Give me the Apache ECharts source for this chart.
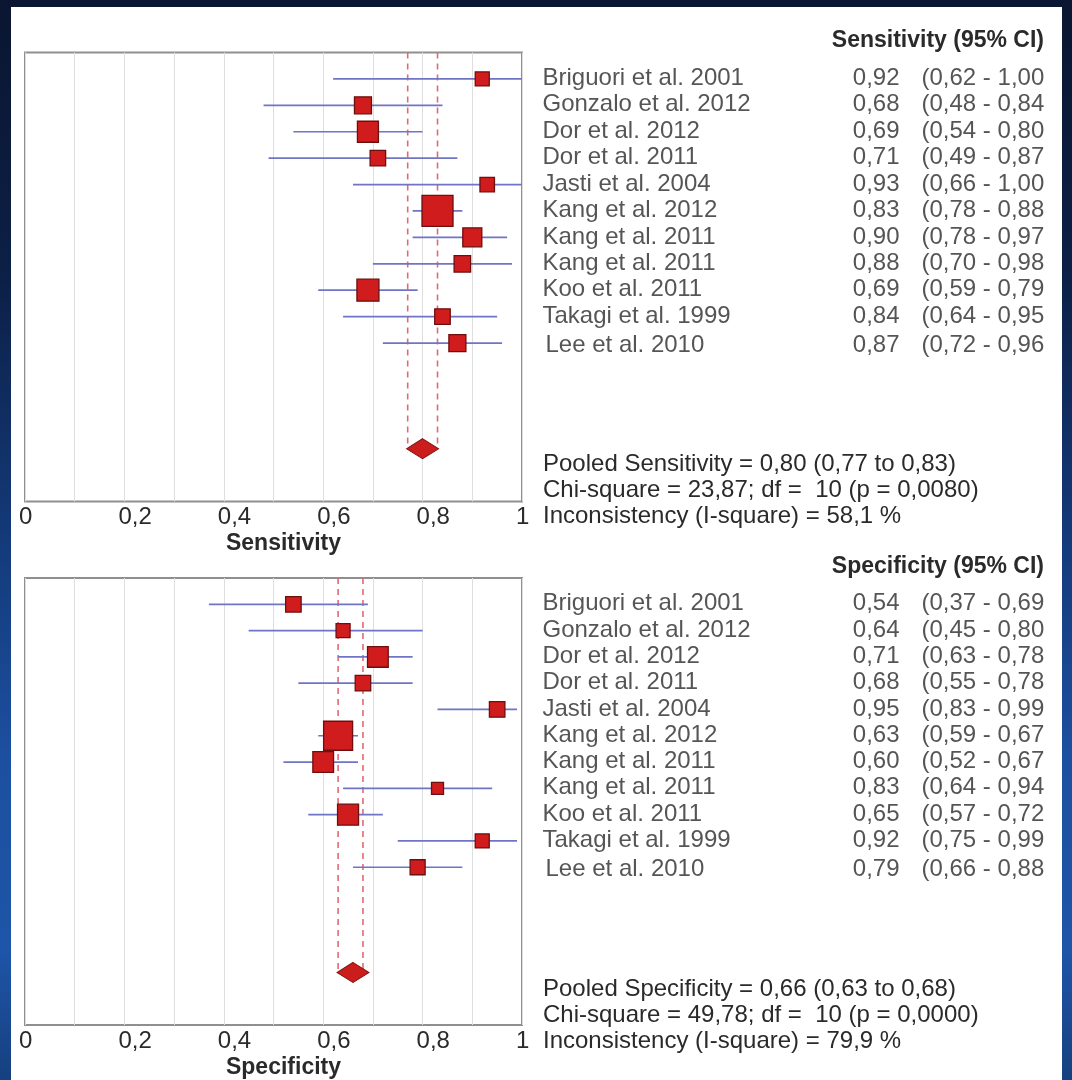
<!DOCTYPE html>
<html><head><meta charset="utf-8">
<script src="https://cdn.jsdelivr.net/npm/echarts@6/dist/echarts.min.js"></script>
<style>
html,body{margin:0;padding:0;width:1072px;height:1080px;overflow:hidden;}
body{position:relative;background:linear-gradient(180deg,#0a1631 0%,#0c1f45 25%,#143a7a 50%,#1c4f9f 70%,#1e55a8 88%,#16407f 100%);}
#panel{position:absolute;left:11px;top:7px;width:1051px;height:1073px;background:#fff;}
#chart{position:absolute;left:0;top:0;width:1072px;height:1080px;}
</style></head><body><div id="panel"></div><div id="chart"></div>
<script>
// ---------- data ----------
const studies = ['Briguori et al. 2001','Gonzalo et al. 2012','Dor et al. 2012','Dor et al. 2011','Jasti et al. 2004','Kang et al. 2012','Kang et al. 2011','Kang et al. 2011','Koo et al. 2011','Takagi et al. 1999','Lee et al. 2010'];
const sensEst = [0.92,0.68,0.69,0.71,0.93,0.83,0.90,0.88,0.69,0.84,0.87];
const sensLo  = [0.62,0.48,0.54,0.49,0.66,0.78,0.78,0.70,0.59,0.64,0.72];
const sensHi  = [1.00,0.84,0.80,0.87,1.00,0.88,0.97,0.98,0.79,0.95,0.96];
const sensWeight = [14,17,21,15.5,14.5,31,19,16.5,22,15.5,17];
const sensPooled = [0.80,0.77,0.83];
const sensStats = ['Pooled Sensitivity = 0,80 (0,77 to 0,83)','Chi-square = 23,87; df =  10 (p = 0,0080)','Inconsistency (I-square) = 58,1 %'];

const specEst = [0.54,0.64,0.71,0.68,0.95,0.63,0.60,0.83,0.65,0.92,0.79];
const specLo  = [0.37,0.45,0.63,0.55,0.83,0.59,0.52,0.64,0.57,0.75,0.66];
const specHi  = [0.69,0.80,0.78,0.78,0.99,0.67,0.67,0.94,0.72,0.99,0.88];
const specWeight = [15.5,14,20.7,15.5,15.5,29,20.7,12,21,14,15];
const specPooled = [0.66,0.63,0.68];
const specStats = ['Pooled Specificity = 0,66 (0,63 to 0,68)','Chi-square = 49,78; df =  10 (p = 0,0000)','Inconsistency (I-square) = 79,9 %'];

const tickLabels = ['0','0,2','0,4','0,6','0,8','1'];
const headers = ['Sensitivity (95% CI)','Specificity (95% CI)'];
const axisNames = ['Sensitivity','Specificity'];
const pooledRow = 14;

// ---------- build ----------
const FONT = "'Liberation Sans', Arial, sans-serif";
const FS = 24;
const FSB = 23;
const TXT = '#2a2a2a';
const fmt = v => v.toFixed(2).replace('.', ',');
const rows = studies.map((s,i)=>i);

function panel(g, est, lo, hi, w, pooled){
  const series = [];
  series.push({
    type:'custom', xAxisIndex:g, yAxisIndex:g, silent:true, z:3,
    encode:{x:[0,1], y:2},
    data: rows.map(i=>[lo[i],hi[i],i]),
    renderItem:(p,api)=>{
      const a=api.coord([api.value(0),api.value(2)]), b=api.coord([api.value(1),api.value(2)]);
      return {type:'line',shape:{x1:a[0],y1:a[1],x2:b[0],y2:b[1]},style:{stroke:'#6f74c4',lineWidth:1.7}};
    }
  });
  [pooled[1],pooled[2]].forEach(v=>{
    series.push({type:'line', xAxisIndex:g, yAxisIndex:g, silent:true, symbol:'none', z:2,
      data:[[v,-1],[v,pooledRow]],
      lineStyle:{color:'#e06a74', width:1.6, type:[6,5]}});
  });
  series.push({type:'scatter', xAxisIndex:g, yAxisIndex:g, silent:true, z:5, symbol:'rect',
    data: rows.map(i=>[est[i],i]),
    symbolSize:(v,p)=>w[p.dataIndex],
    itemStyle:{color:'#d01c1c', borderColor:'#6e0e0e', borderWidth:1.3, opacity:1}});
  series.push({type:'scatter', xAxisIndex:g, yAxisIndex:g, silent:true, z:5, symbol:'diamond',
    data:[[pooled[0],pooledRow]], symbolSize:[32,20],
    itemStyle:{color:'#cc1d1d', borderColor:'#7e1212', borderWidth:1, opacity:1}});
  const lab = (fn, pos, align, dx)=>({type:'scatter', xAxisIndex:g, yAxisIndex:g, silent:true, z:6, clip:false,
    symbolSize:1, itemStyle:{color:'transparent'},
    data: rows.map(i=>{
      const d={value:[1,i]};
      if(i===10) d.label={position:[pos[0]+dx,pos[1]+3]};
      return d;
    }),
    label:{show:true, position:pos, align:align, verticalAlign:'middle', fontFamily:FONT, fontSize:FS, color:TXT,
      formatter:p=>fn(p.dataIndex)}});
  series.push(lab(i=>studies[i],[21,0],'left',3));
  series.push(lab(i=>fmt(est[i]),[378,0],'right',0));
  series.push(lab(i=>'('+fmt(lo[i])+' - '+fmt(hi[i]),[400,0],'left',0));
  return series;
}

const gridTops = [52.5, 578];
const gridH = 449;
const option = {
  animation:false,
  backgroundColor:'transparent',
  grid: gridTops.map(t=>({left:25, width:497, top:t, height:gridH, show:true, borderColor:'#8f8f8f', borderWidth:2, backgroundColor:'transparent'})),
  xAxis: [0,1].map(g=>({
    gridIndex:g, type:'value', min:0, max:1, interval:0.1,
    axisLine:{show:false}, axisTick:{show:false},
    splitLine:{show:true, lineStyle:{color:'#dedede', width:1}},
    axisLabel:{show:true, margin:4, align:'left', padding:[0,0,0,-6], fontFamily:FONT, fontSize:FS, color:TXT,
      formatter:v=>{const k=Math.round(v*10); return k%2===0 ? tickLabels[k/2] : '';}},
    name:axisNames[g], nameLocation:'middle', nameGap:31,
    nameTextStyle:{fontFamily:FONT, fontSize:FSB, fontWeight:'bold', color:TXT, padding:[0,0,0,20]}
  })),
  yAxis: [0,1].map(g=>({gridIndex:g, type:'value', min:-1, max:16, inverse:true, show:false, splitLine:{show:false}})),
  series: [...panel(0,sensEst,sensLo,sensHi,sensWeight,sensPooled), ...panel(1,specEst,specLo,specHi,specWeight,specPooled)],
  graphic: [
    ...[0,1].map(g=>({type:'text', x:1044, y:41+gridTops[g]-52.5, silent:true,
      style:{text:headers[g], textAlign:'right', textVerticalAlign:'middle', font:'bold '+FSB+'px '+FONT, fill:TXT}})),
    ...[sensStats,specStats].flatMap((arr,g)=>arr.map((t,k)=>({type:'text', x:543, y:464+26*k+gridTops[g]-52.5, silent:true,
      style:{text:t, textAlign:'left', textVerticalAlign:'middle', font:FS+'px '+FONT, fill:TXT}})))
  ]
};
const chart = echarts.init(document.getElementById('chart'), null, {renderer:'canvas'});
chart.setOption(option);
</script></body></html>
